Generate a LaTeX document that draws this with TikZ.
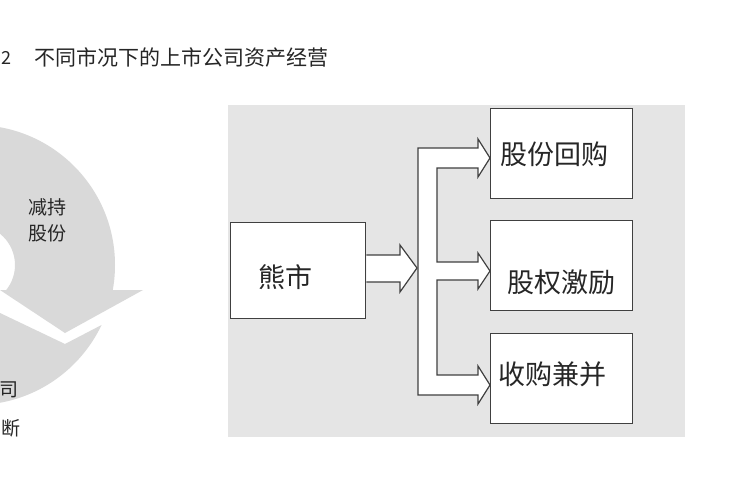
\documentclass[tikz,border=0pt]{standalone}
\usepackage{fontspec}
\setmainfont{Noto Sans CJK SC}
\begin{document}
\begin{tikzpicture}[x=1pt,y=-1pt,
  bx/.style={draw=black!75,line width=1.3pt,fill=white},
  lab/.style={font=\fontsize{27}{30}\selectfont,text=black!85},
  ring/.style={fill=black!15}]
\useasboundingbox (0,0) rectangle (750,500);
\fill[white] (0,0) rectangle (750,500);
% title
\node[anchor=west,font=\fontsize{18}{20}\selectfont,text=black!85] (num) at (-2,58) {2};
\node[anchor=west,font=\fontsize{21}{24}\selectfont,text=black!85,inner sep=0] (title) at (34,58) {不同市况下的上市公司资产经营};
% circular arrow
\begin{scope}
\clip (-200,0) rectangle (400,290);
\fill[ring,even odd rule] (-25,265) circle (140) (-25,265) circle (40);
\end{scope}
\fill[ring] (0,290) -- (143,290) -- (65,333) -- cycle;
\begin{scope}
\clip (-200,313) -- (0,313) -- (65,344) -- (115,318) -- (400,318) -- (400,600) -- (-200,600) -- cycle;
\fill[ring,even odd rule] (-25,265) circle (140) (-25,265) circle (40);
\end{scope}
\node[font=\fontsize{19}{26}\selectfont,text=black!85,align=center] (jc) at (47,220) {减持\\股份};
\node[font=\fontsize{19}{24}\selectfont,text=black!85,anchor=east] (s1) at (22,390) {司};
\node[font=\fontsize{19}{24}\selectfont,text=black!85,anchor=east] (s2) at (24,428) {断};
% background panel
\fill[black!10] (228,105) rectangle (685,437);
% boxes
\node[bx,minimum width=135,minimum height=96,anchor=north west] (bear) at (230,222) {};
\node[lab] at (285,277) {熊市};
\node[bx,minimum width=142,minimum height=90,anchor=north west] (b1) at (490,108) {};
\node[lab] at (554,154) {股份回购};
\node[bx,minimum width=142,minimum height=90,anchor=north west] (b2) at (490,220) {};
\node[lab] at (561,282) {股权激励};
\node[bx,minimum width=142,minimum height=90,anchor=north west] (b3) at (490,333) {};
\node[lab] at (552,374) {收购兼并};
% block arrows
\draw[black!75,line width=1.2pt,fill=white,line join=miter]
  (bear.east |- 0,255) -- (400,255) -- (400,245) -- (417,268) -- (400,292) -- (400,282) -- (bear.east |- 0,282);
\draw[black!75,line width=1.2pt,fill=white,line join=miter]
  (418,148) -- (478,148) -- (478,139) -- (b1.west |- 0,158) -- (478,177) -- (478,168) -- (437,168)
  -- (437,262) -- (478,262) -- (478,253) -- (b2.west |- 0,271) -- (478,289) -- (478,280) -- (437,280)
  -- (437,375) -- (478,375) -- (478,366) -- (b3.west |- 0,385) -- (478,404) -- (478,395) -- (418,395) -- cycle;
\end{tikzpicture}
\end{document}
